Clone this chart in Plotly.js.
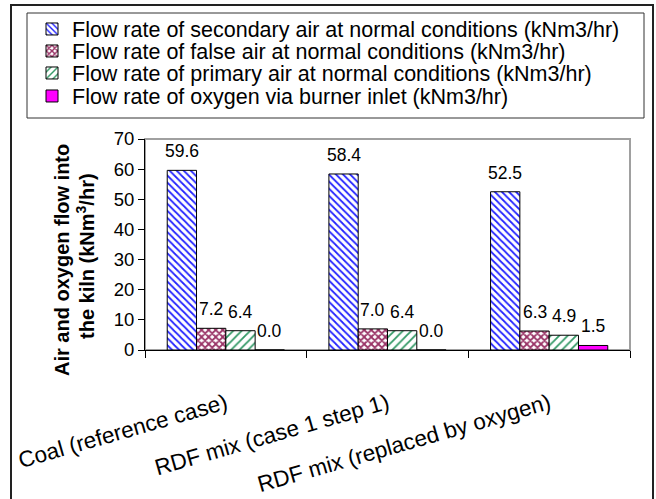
<!DOCTYPE html>
<html>
<head>
<meta charset="utf-8">
<script src="https://cdn.plot.ly/plotly-3.0.1.min.js"></script>
<style>html,body{margin:0;padding:0;background:#fff;}#chart{width:656px;height:499px;}</style>
</head>
<body>
<div id="chart"></div>
<script>
var categories = ["Coal (reference case)", "RDF mix (case 1 step 1)", "RDF mix (replaced by oxygen)"];
var seriesNames = [
  "Flow rate of secondary air at normal conditions (kNm3/hr)",
  "Flow rate of false air at normal conditions (kNm3/hr)",
  "Flow rate of primary air at normal conditions (kNm3/hr)",
  "Flow rate of oxygen via burner inlet (kNm3/hr)"
];
var secondaryAir = [59.6, 58.4, 52.5];
var falseAir = [7.2, 7.0, 6.3];
var primaryAir = [6.4, 6.4, 4.9];
var oxygen = [0.0, 0.0, 1.5];
var yTicks = [0, 10, 20, 30, 40, 50, 60, 70];

var allSeries = [secondaryAir, falseAir, primaryAir, oxygen];
var patterns = [
  {shape: "\\", fgcolor: "#2222ff", bgcolor: "#ffffff", size: 5, solidity: 0.35},
  {shape: "x", fgcolor: "#993366", bgcolor: "#ffffff", size: 5, solidity: 0.6},
  {shape: "/", fgcolor: "#339966", bgcolor: "#ffffff", size: 6, solidity: 0.3},
  null
];
var legendRowsY = [29, 51, 73, 96];
var bargap = 0.275;
var FONT = "Arial, 'Liberation Sans', sans-serif";

var traces = allSeries.map(function (vals, i) {
  var marker = {color: i === 3 ? "#ff00ff" : "#ffffff", line: {color: "#000000", width: 1}};
  if (patterns[i]) marker.pattern = patterns[i];
  return {
    type: "bar",
    name: seriesNames[i],
    x: categories,
    y: vals,
    marker: marker,
    legend: i === 0 ? "legend" : "legend" + (i + 1),
    hoverinfo: "skip"
  };
});

var W = 656, H = 499, ml = 145, mr = 26, mt = 139, mb = 149;
var pw = W - ml - mr, ph = H - mt - mb;
function px2x(p) { return (p - ml) / pw; }
function py2y(p) { return (H - mb - p) / ph; }

var barW = (1 - bargap) / 4;
var annotations = [];
allSeries.forEach(function (vals, i) {
  vals.forEach(function (v, j) {
    annotations.push({
      x: j + (i - 1.5) * barW, y: v, xref: "x", yref: "y",
      text: v.toFixed(1), showarrow: false, yanchor: "bottom", xanchor: "center",
      yshift: 7, font: {family: FONT, size: 17.5, color: "#000"}
    });
  });
});
annotations.push({
  x: px2x(62), y: py2y(260), xref: "paper", yref: "paper", textangle: -90,
  text: "<b>Air and oxygen flow into</b>", showarrow: false,
  xanchor: "center", yanchor: "middle", font: {family: FONT, size: 20, color: "#000"}
});
annotations.push({
  x: px2x(85), y: py2y(256), xref: "paper", yref: "paper", textangle: -90,
  text: "<b>the kiln (kNm<sup>3</sup>/hr)</b>", showarrow: false,
  xanchor: "center", yanchor: "middle", font: {family: FONT, size: 20, color: "#000"}
});

var layout = {
  width: W, height: H,
  margin: {l: ml, r: mr, t: mt, b: mb, pad: 0, autoexpand: false},
  paper_bgcolor: "#ffffff", plot_bgcolor: "#ffffff",
  barmode: "group", bargap: bargap, bargroupgap: 0,
  font: {family: FONT, color: "#000"},
  xaxis: {
    type: "category", range: [-0.5, 2.5], showline: true, linecolor: "#000", linewidth: 1,
    ticks: "outside", tickson: "boundaries", ticklen: 7, tickcolor: "#000",
    tickangle: -16, tickfont: {family: FONT, size: 22.5, color: "#000"},
    ticklabelstandoff: 31, showgrid: false, zeroline: false, fixedrange: true, automargin: false
  },
  yaxis: {
    range: [0, 70], tickvals: yTicks, showline: true, linecolor: "#000", linewidth: 1,
    ticks: "outside", ticklen: 6, tickcolor: "#000",
    tickfont: {family: FONT, size: 18.5, color: "#000"},
    showgrid: false, zeroline: false, fixedrange: true, automargin: false
  },
  annotations: annotations,
  shapes: [
    {type: "rect", xref: "paper", yref: "paper", x0: px2x(11), x1: px2x(653), y0: py2y(501), y1: py2y(5),
     line: {color: "#222", width: 2}, layer: "below"},
    {type: "rect", xref: "paper", yref: "paper", x0: px2x(27), x1: px2x(644), y0: py2y(118), y1: py2y(13),
     line: {color: "#333", width: 1}, layer: "below"},
    {type: "rect", xref: "paper", yref: "paper", x0: 0, x1: 1, y0: 0, y1: 1,
     line: {color: "#a0a0a0", width: 2}, layer: "below"}
  ],
  showlegend: true
};
legendRowsY.forEach(function (yy, i) {
  var key = i === 0 ? "legend" : "legend" + (i + 1);
  layout[key] = {
    xref: "container", yref: "container", x: 32 / W, y: 1 - yy / H,
    xanchor: "left", yanchor: "middle", bgcolor: "rgba(0,0,0,0)", borderwidth: 0,
    font: {family: FONT, size: 21.5, color: "#000"}, itemclick: false, itemdoubleclick: false
  };
});

Plotly.newPlot("chart", traces, layout, {displayModeBar: false, staticPlot: true});
</script>
</body>
</html>
